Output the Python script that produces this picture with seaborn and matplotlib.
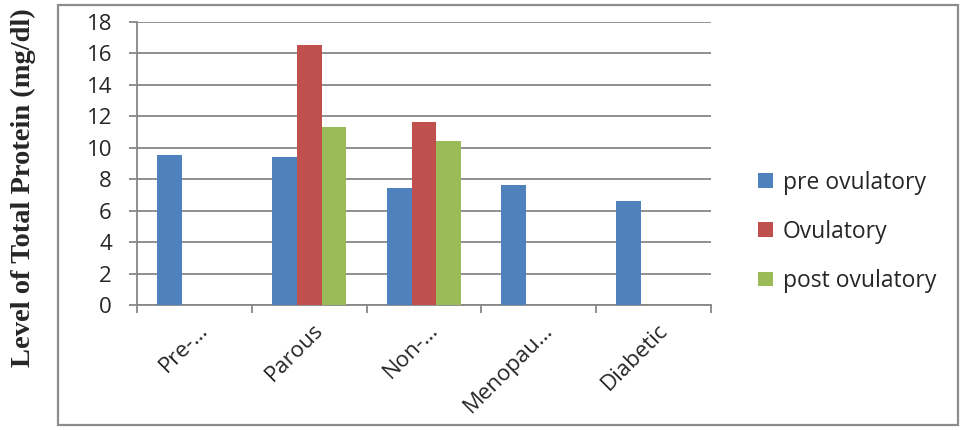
import matplotlib
matplotlib.use("Agg")
import matplotlib.pyplot as plt
import matplotlib.transforms as mtransforms
from matplotlib.patches import Rectangle
import pandas as pd
import seaborn as sns

groups = ["Pre-…", "Parous", "Non-…", "Menopau…", "Diabetic"]
phases = ["pre ovulatory", "Ovulatory", "post ovulatory"]
pre_ovulatory = [9.5, 9.4, 7.45, 7.6, 6.6]
ovulatory = [None, 16.5, 11.6, None, None]
post_ovulatory = [None, 11.3, 10.4, None, None]
colors = ["#4F81BD", "#C0504D", "#9BBB59"]

rows = []
for name, vals in zip(phases, [pre_ovulatory, ovulatory, post_ovulatory]):
    for g, v in zip(groups, vals):
        if v is not None:
            rows.append({"group": g, "phase": name, "value": v})
df = pd.DataFrame(rows)

sns.set_style("white")
plt.rcParams["font.family"] = ["Open Sans", "DejaVu Sans"]

fig = plt.figure(figsize=(9.6, 4.3), dpi=100)
ax = fig.add_axes([0.1427, 0.2907, 0.5979, 0.6588])

sns.barplot(data=df, x="group", y="value", hue="phase", order=groups,
            hue_order=phases, palette=colors, width=0.65, gap=0,
            saturation=1, linewidth=0, ax=ax, zorder=3)

grid_c = "#878787"
ax.set_ylim(0, 18)
ax.set_xlim(-0.5, len(groups) - 0.5)
ax.set_yticks(range(0, 19, 2))
ax.yaxis.grid(True, color=grid_c, lw=1.3, zorder=0)
ax.set_axisbelow(True)
for s in ["top", "right"]:
    ax.spines[s].set_visible(False)
for s in ["left", "bottom"]:
    ax.spines[s].set_color(grid_c)
    ax.spines[s].set_linewidth(1.3)
ax.tick_params(axis="y", length=6, width=1.3, color=grid_c, pad=12,
               labelsize=16, left=True)
ax.set_xticks(range(len(groups)))
ax.set_xticks([i - 0.5 for i in range(len(groups) + 1)], minor=True)
ax.tick_params(axis="x", which="major", length=0, labelsize=16, pad=16)
ax.tick_params(axis="x", which="minor", length=6, width=1.3, color=grid_c,
               bottom=True)
shift = mtransforms.ScaledTranslation(11 / 100, 0, fig.dpi_scale_trans)
for lab in ax.get_xticklabels():
    lab.set_rotation(45)
    lab.set_ha("right")
    lab.set_va("center")
    lab.set_rotation_mode("anchor")
    lab.set_transform(lab.get_transform() + shift)
ax.set_xlabel("")
ax.set_ylabel("")

fig.text(0.024, 0.563, "Level of Total Protein (mg/dl)", rotation=90,
         ha="center", va="center", fontsize=20.5, fontweight="bold",
         family=["Liberation Serif", "DejaVu Serif"])

sns.move_legend(ax, "upper left", bbox_to_anchor=(0.790, 0.603),
                bbox_transform=fig.transFigure, frameon=False, title=None,
                fontsize=16.5, handlelength=0.62, handleheight=0.62,
                handletextpad=0.45, labelspacing=1.1, borderpad=0,
                borderaxespad=0)

fig.patches.append(Rectangle((0.0604, 0.0116), 0.9375, 0.9767,
                             transform=fig.transFigure, fill=False,
                             edgecolor="#8c8c8c", lw=1.6))

fig.savefig("out.png", dpi=100)
